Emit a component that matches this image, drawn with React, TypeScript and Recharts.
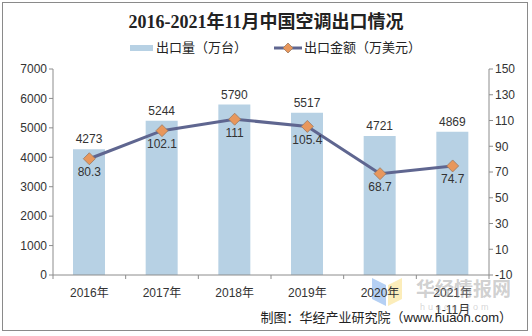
import React from "react";
import {
  ComposedChart,
  Bar,
  Line,
  XAxis,
  YAxis,
  LabelList,
} from "recharts";

const categories = ["2016年", "2017年", "2018年", "2019年", "2020年", "2021年"];
const subLabels = ["", "", "", "", "", "1-11月"];
const volume = [4273, 5244, 5790, 5517, 4721, 4869];
const amount = [80.3, 102.1, 111, 105.4, 68.7, 74.7];
const leftTicks = [0, 1000, 2000, 3000, 4000, 5000, 6000, 7000];
const rightTicks = [-10, 10, 30, 50, 70, 90, 110, 130, 150];

const data = categories.map((c, i) => ({
  name: c,
  sub: subLabels[i],
  volume: volume[i],
  amount: amount[i],
}));

const FONT = "'Liberation Sans', Arial, 'Noto Sans CJK SC', sans-serif";
const BAR_COLOR = "#b7d1e4";
const LINE_COLOR = "#5f6690";
const MARK_COLOR = "#e8975c";
const AXIS_COLOR = "#8c8c8c";

const Diamond = (props: any) => {
  const { cx, cy } = props;
  if (cx == null || cy == null) return null;
  const r = 6;
  return (
    <path
      d={`M${cx},${cy - r} L${cx + r},${cy} L${cx},${cy + r} L${cx - r},${cy} Z`}
      fill={MARK_COLOR}
      stroke="#9a7a62"
      strokeWidth={0.8}
    />
  );
};

const XTick = (props: any) => {
  const { x, y, payload, index, width, visibleTicksCount } = props;
  const i = payload.index ?? index;
  const sub = subLabels[i] || "";
  const count = visibleTicksCount || categories.length;
  const step = (width || 436) / count;
  const axisY = y - 8;
  return (
    <g>
      <line x1={x - step / 2} y1={axisY} x2={x - step / 2} y2={axisY + 4} stroke={AXIS_COLOR} />
      {i === count - 1 ? (
        <line x1={x + step / 2} y1={axisY} x2={x + step / 2} y2={axisY + 4} stroke={AXIS_COLOR} />
      ) : null}
      <text x={x} y={y + 14} textAnchor="middle" fontSize={12} fill="#333" fontFamily={FONT}>
        {payload.value}
      </text>
      {sub ? (
        <text x={x} y={y + 31} textAnchor="middle" fontSize={12} fill="#333" fontFamily={FONT}>
          {sub}
        </text>
      ) : null}
    </g>
  );
};

export default function App() {
  return (
    <div style={{ position: "absolute", left: 0, top: 0, width: 532, height: 336, background: "#fff", fontFamily: FONT }}>
      <div
        style={{
          position: "absolute",
          left: 2,
          top: 2,
          width: 526,
          height: 329,
          border: "1px solid #8a8a8a",
          boxSizing: "border-box",
        }}
      />
      <div
        style={{
          position: "absolute",
          left: 0,
          top: 10,
          width: 532,
          textAlign: "center",
          fontFamily: "'Liberation Serif', 'Noto Sans CJK SC', serif",
          fontWeight: "bold",
          fontSize: 18,
          color: "#222",
          lineHeight: "24px",
        }}
      >
        2016-2021年11月中国空调出口情况
      </div>
      {/* legend */}
      <div style={{ position: "absolute", left: 130, top: 45, width: 23, height: 6, background: BAR_COLOR }} />
      <div style={{ position: "absolute", left: 156, top: 39, fontSize: 13, color: "#222", lineHeight: "18px" }}>
        出口量（万台）
      </div>
      <svg style={{ position: "absolute", left: 272, top: 40 }} width={32} height={16}>
        <line x1={2} y1={8} x2={30} y2={8} stroke={LINE_COLOR} strokeWidth={3} />
        <path d="M16,3 L21,8 L16,13 L11,8 Z" fill={MARK_COLOR} stroke="#9a7a62" strokeWidth={0.8} />
      </svg>
      <div style={{ position: "absolute", left: 304, top: 39, fontSize: 13, color: "#222", lineHeight: "18px" }}>
        出口金额（万美元）
      </div>

      {/* watermark logo */}
      <svg style={{ position: "absolute", left: 370, top: 276 }} width={34} height={32}>
        <path d="M2,2 L16,9 L16,30 L2,23 Z" fill="rgba(120,170,235,0.55)" />
        <path d="M18,9 L32,2 L32,23 L18,30 Z" fill="rgba(250,225,140,0.6)" />
      </svg>

      <div style={{ position: "absolute", left: 0, top: 0 }}>
        <ComposedChart
          width={532}
          height={336}
          data={data}
          margin={{ top: 69, right: 0, bottom: 0, left: 0 }}
        >
          <XAxis
            dataKey="name"
            height={61}
            interval={0}
            tick={<XTick />}
            axisLine={{ stroke: AXIS_COLOR }}
            tickLine={false}
          />
          <YAxis
            yAxisId="left"
            width={53}
            domain={[0, 7000]}
            ticks={leftTicks}
            interval={0}
            axisLine={{ stroke: AXIS_COLOR }}
            tickLine={{ stroke: AXIS_COLOR }}
            tickSize={4}
            tick={{ fontSize: 12, fill: "#333", fontFamily: FONT }}
          />
          <YAxis
            yAxisId="right"
            orientation="right"
            width={43}
            domain={[-10, 150]}
            ticks={rightTicks}
            interval={0}
            axisLine={{ stroke: AXIS_COLOR }}
            tickLine={{ stroke: AXIS_COLOR }}
            tickSize={4}
            tick={{ fontSize: 12, fill: "#333", fontFamily: FONT }}
          />
          <Bar yAxisId="left" dataKey="volume" fill={BAR_COLOR} barSize={32} isAnimationActive={false}>
            <LabelList dataKey="volume" position="top" offset={6} fontSize={12} fill="#333" fontFamily={FONT} />
          </Bar>
          <Line
            yAxisId="right"
            dataKey="amount"
            stroke={LINE_COLOR}
            strokeWidth={3}
            dot={<Diamond />}
            activeDot={false}
            isAnimationActive={false}
          >
            <LabelList dataKey="amount" position="bottom" offset={9} fontSize={12} fill="#333" fontFamily={FONT} />
          </Line>
        </ComposedChart>
      </div>

      {/* watermark text */}
      <div
        style={{
          position: "absolute",
          left: 416,
          top: 279,
          fontSize: 19,
          fontWeight: "bold",
          color: "rgba(150,150,150,0.45)",
          lineHeight: "22px",
        }}
      >
        华经情报网
      </div>
      <div
        style={{
          position: "absolute",
          left: 420,
          top: 302,
          fontSize: 9,
          color: "rgba(150,150,150,0.4)",
          letterSpacing: 3,
          lineHeight: "10px",
        }}
      >
        huaon.com
      </div>

      <div
        style={{
          position: "absolute",
          right: 20,
          top: 309,
          fontSize: 13,
          color: "#222",
          lineHeight: "18px",
        }}
      >
        制图：华经产业研究院（www.huaon.com）
      </div>
    </div>
  );
}
